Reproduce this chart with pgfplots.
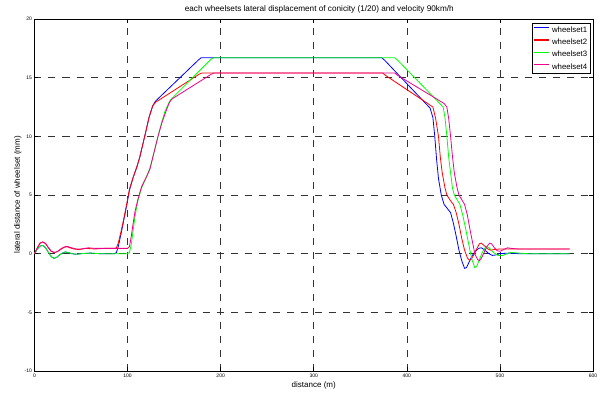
\documentclass[border=0pt]{standalone}
\usepackage{fontspec}
\setmainfont{Liberation Sans}
\usepackage{pgfplots}
\pgfplotsset{compat=1.18}
\begin{document}
\begin{tikzpicture}
\path[use as bounding box] (-34.5pt,-23pt) rectangle (568.5pt,371pt);
\begin{axis}[
  scale only axis, width=558.5pt, height=352pt,
  at={(0,0)}, anchor=south west,
  xmin=0, xmax=600, ymin=-10, ymax=20,
  xtick={0,100,...,600}, ytick={-10,-5,...,20},
  tick align=inside, major tick length=4pt,
  tick style={black, line width=0.6pt},
  axis line style={black, line width=0.9pt},
  grid=major,
  major grid style={black!80, line width=0.6pt, dash pattern=on 7pt off 7pt},
  /pgf/number format/assume math mode=true,
  ticklabel style={font=\fontsize{5}{6}\selectfont},
  xticklabel style={yshift=1pt},
  yticklabel style={xshift=1pt},
  every axis title shift=0pt,
  title={each wheelsets lateral displacement of conicity (1/20) and velocity 90km/h},
  title style={font=\fontsize{8.2}{10}\selectfont, at={(axis description cs:0.51,1.026)}, anchor=center},
  xlabel={distance (m)},
  xlabel style={font=\fontsize{8}{10}\selectfont, at={(axis description cs:0.5,-0.04)}, anchor=center},
  ylabel={lateral distance of wheelset (mm)},
  ylabel style={font=\fontsize{8}{10}\selectfont, at={(axis description cs:-0.03,0.5)}, anchor=center},
  legend style={at={(0.996,0.989)}, anchor=north east, line width=1.2pt,
    font=\fontsize{7.8}{9}\selectfont, inner sep=1pt, row sep=1.2pt, cells={anchor=west}},
  legend image code/.code={\draw[line width=1.5pt,#1,line width=1.5pt] (0pt,2.5pt) -- (15pt,2.5pt);},
  every axis plot/.append style={line width=0.8pt},
]
\addplot[color=blue] coordinates {
(0,0) (3,0.4) (6,0.65) (9,0.7) (12,0.5) (15,0.1) (18,-0.25) (21,-0.4) (24,-0.3) (27,-0.1) (30,0.05) (33,0.15) (36,0.1) (40,0) (45,-0.05) (50,0) (60,0.05) (70,0) (80,0) (86,0) (88,0.1) (90,0.6) (93,1.7) (96,2.9) (99,4.1) (102,5.4) (106,6.5) (110,7.4) (113,8.2) (116,9.2) (119,10.2) (123,11.6) (127,12.6) (130,13.0) (176,16.5) (179,16.7)
(373,16.7) (376,16.5) (425,12.4) (428,11.6) (430,10) (432,8) (434,6.4) (437,5) (440,4.2) (444,3.8) (447,3.5) (450,2.6) (453,1.5) (456,0.3) (459,-0.6) (462,-1.25) (464,-1.2) (467,-0.7) (470,-0.2) (473,0.15) (477,0.45) (480,0.5) (484,0.3) (488,0) (492,-0.15) (496,-0.1) (500,0) (510,0.05) (520,0) (575,0)
};
\addlegendentry{wheelset1}
\addplot[color=red] coordinates {
(0,0) (3,0.5) (6,0.9) (9,1.0) (12,0.85) (15,0.5) (18,0.2) (21,0.1) (24,0.15) (28,0.35) (32,0.55) (35,0.6) (38,0.5) (42,0.4) (48,0.35) (55,0.45) (65,0.4) (75,0.45) (86,0.45) (88,0.5) (90,0.9) (93,1.9) (96,3.0) (99,4.2) (102,5.5) (106,6.5) (110,7.4) (113,8.2) (116,9.2) (119,10.2) (123,11.6) (127,12.6) (130,12.9) (177,15.3) (180,15.4)
(374,15.4) (377,15.2) (428,12.5) (431,11.5) (434,10) (436,8.2) (438,6.9) (441,5.6) (443,5) (447,4.5) (450,4.2) (453,3.5) (456,2.5) (459,1.3) (462,0.3) (465,-0.35) (467,-0.55) (469,-0.5) (472,-0.1) (475,0.4) (478,0.85) (480,0.9) (483,0.7) (487,0.4) (490,0.3) (494,0.35) (500,0.4) (510,0.4) (575,0.4)
};
\addlegendentry{wheelset2}
\addplot[color=green] coordinates {
(0,0) (3,0.4) (6,0.65) (9,0.7) (12,0.5) (15,0.1) (18,-0.25) (21,-0.4) (24,-0.3) (27,-0.1) (30,0.05) (33,0.15) (36,0.1) (40,0) (45,-0.05) (50,0) (60,0.05) (70,0) (80,0) (90,0) (100,0) (102,0.1) (104,0.8) (106,2.0) (108,3.2) (111,4.5) (115,5.6) (120,6.5) (124,7.3) (128,8.5) (132,9.8) (136,11.0) (140,12.1) (144,12.8) (146,13.1) (190,16.6) (193,16.7)
(387,16.7) (390,16.5) (439,12.5) (441,11.6) (443,10) (445,8.2) (447,6.9) (449,5.6) (451,5) (454,4.6) (457,4.2) (460,3.3) (463,2.2) (466,1.0) (468,0.2) (470,-0.5) (473,-1.2) (475,-1.1) (478,-0.5) (481,0.1) (484,0.5) (486,0.6) (489,0.45) (493,0.1) (498,-0.15) (503,-0.15) (508,0) (512,0.1) (520,0.05) (530,0) (575,0)
};
\addlegendentry{wheelset3}
\addplot[color=magenta] coordinates {
(0,0) (3,0.5) (6,0.9) (9,1.0) (12,0.85) (15,0.5) (18,0.2) (22,0.1) (25,0.2) (29,0.45) (33,0.6) (36,0.6) (40,0.5) (45,0.4) (50,0.4) (58,0.5) (65,0.45) (80,0.45) (100,0.45) (102,0.6) (104,1.5) (106,2.6) (108,3.6) (111,4.6) (115,5.7) (120,6.5) (124,7.2) (128,8.5) (132.7,10) (137,11.2) (142,12.3) (145,12.9) (148,13.2) (190,15.3) (193,15.4)
(387,15.4) (390,15.2) (440,12.8) (443,12.5) (445,11.5) (447,10) (449,8.3) (451,6.9) (454,5.6) (456,5) (459,4.6) (462,4.2) (465,3.3) (468,2.0) (471,0.8) (473,0) (476,-0.5) (478,-0.6) (480,-0.4) (483,0.1) (486,0.6) (489,0.9) (491,0.85) (494,0.5) (497,0.25) (500,0.2) (504,0.35) (508,0.5) (512,0.45) (520,0.4) (575,0.4)
};
\addlegendentry{wheelset4}
\end{axis}
\end{tikzpicture}
\end{document}
